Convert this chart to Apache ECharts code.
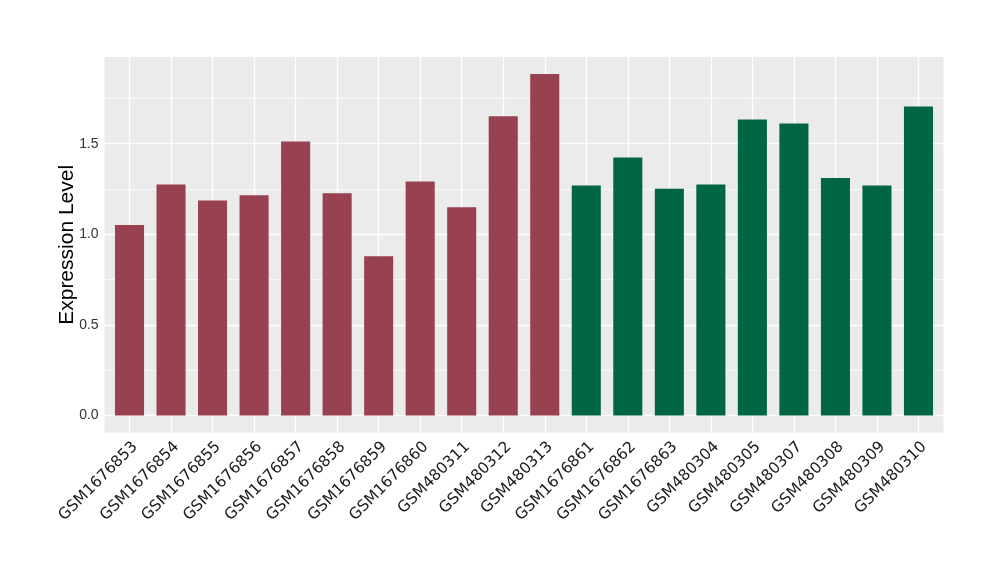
<!DOCTYPE html>
<html>
<head>
<meta charset="utf-8">
<script src="https://cdn.jsdelivr.net/npm/echarts@6/dist/echarts.min.js"></script>
<style>html,body{margin:0;padding:0;background:#fff;}#c{width:1000px;height:580px;}</style>
</head>
<body>
<div id="c"></div>
<script>
const categories = ["GSM1676853","GSM1676854","GSM1676855","GSM1676856","GSM1676857","GSM1676858","GSM1676859","GSM1676860","GSM480311","GSM480312","GSM480313","GSM1676861","GSM1676862","GSM1676863","GSM480304","GSM480305","GSM480307","GSM480308","GSM480309","GSM480310"];
const values = [1.051,1.275,1.187,1.215,1.512,1.226,0.879,1.292,1.149,1.652,1.884,1.270,1.424,1.251,1.275,1.633,1.612,1.311,1.270,1.705];
const groups = ["A","A","A","A","A","A","A","A","A","A","A","B","B","B","B","B","B","B","B","B"];
const groupColors = {A:"#984150", B:"#006644"};
const majorBreaks = [0, 0.5, 1.0, 1.5];
const minorBreaks = [0.25, 0.75, 1.25, 1.75];

const idx = categories.map((c, i) => i);
const vmax = Math.max(...values);
const pad = vmax * 0.05;

const gridLines = [];
majorBreaks.forEach(v => gridLines.push({yAxis: v, lineStyle: {width: 1.4}}));
minorBreaks.forEach(v => gridLines.push({yAxis: v, lineStyle: {width: 0.7}}));
idx.forEach(i => gridLines.push({xAxis: i, lineStyle: {width: 1.4}}));

const chart = echarts.init(document.getElementById('c'), null, {renderer: 'canvas'});
chart.setOption({
  animation: false,
  backgroundColor: '#ffffff',
  grid: {left: 104.6, right: 56.6, top: 57, bottom: 147.3, show: true, backgroundColor: '#EBEBEB', borderWidth: 0},
  xAxis: {
    type: 'value',
    min: -0.6,
    max: categories.length - 0.4,
    axisLine: {show: false},
    axisTick: {show: true, customValues: idx, length: 4, lineStyle: {color: '#333333', width: 1}},
    axisLabel: {customValues: idx, rotate: 45, fontSize: 15.5, fontFamily: 'DejaVu Sans', color: '#1a1a1a',
      margin: 6, verticalAlign: 'top', formatter: v => categories[Math.round(v)]},
    splitLine: {show: false}
  },
  yAxis: {
    type: 'value',
    min: -pad,
    max: vmax + pad,
    name: 'Expression Level',
    nameLocation: 'middle',
    nameGap: 27,
    nameMoveOverlap: false,
    nameTextStyle: {fontSize: 21, fontFamily: 'Liberation Sans', color: '#000000'},
    axisLine: {show: false},
    axisTick: {show: true, length: 4, customValues: majorBreaks, lineStyle: {color: '#333333', width: 1}},
    axisLabel: {customValues: majorBreaks, fontSize: 14, fontFamily: 'Liberation Sans', color: '#333333', margin: 6,
      formatter: v => Number(v).toFixed(1)},
    splitLine: {show: false}
  },
  series: [
    {
      type: 'line',
      data: [],
      z: 1,
      silent: true,
      markLine: {
        z: 1,
        silent: true,
        animation: false,
        symbol: ['none', 'none'],
        label: {show: false},
        lineStyle: {color: '#ffffff', type: 'solid'},
        data: gridLines
      }
    },
    {
      type: 'bar',
      z: 3,
      barWidth: '70%',
      data: values.map((v, i) => ({value: [i, v], itemStyle: {color: groupColors[groups[i]]}}))
    }
  ]
});
</script>
</body>
</html>
